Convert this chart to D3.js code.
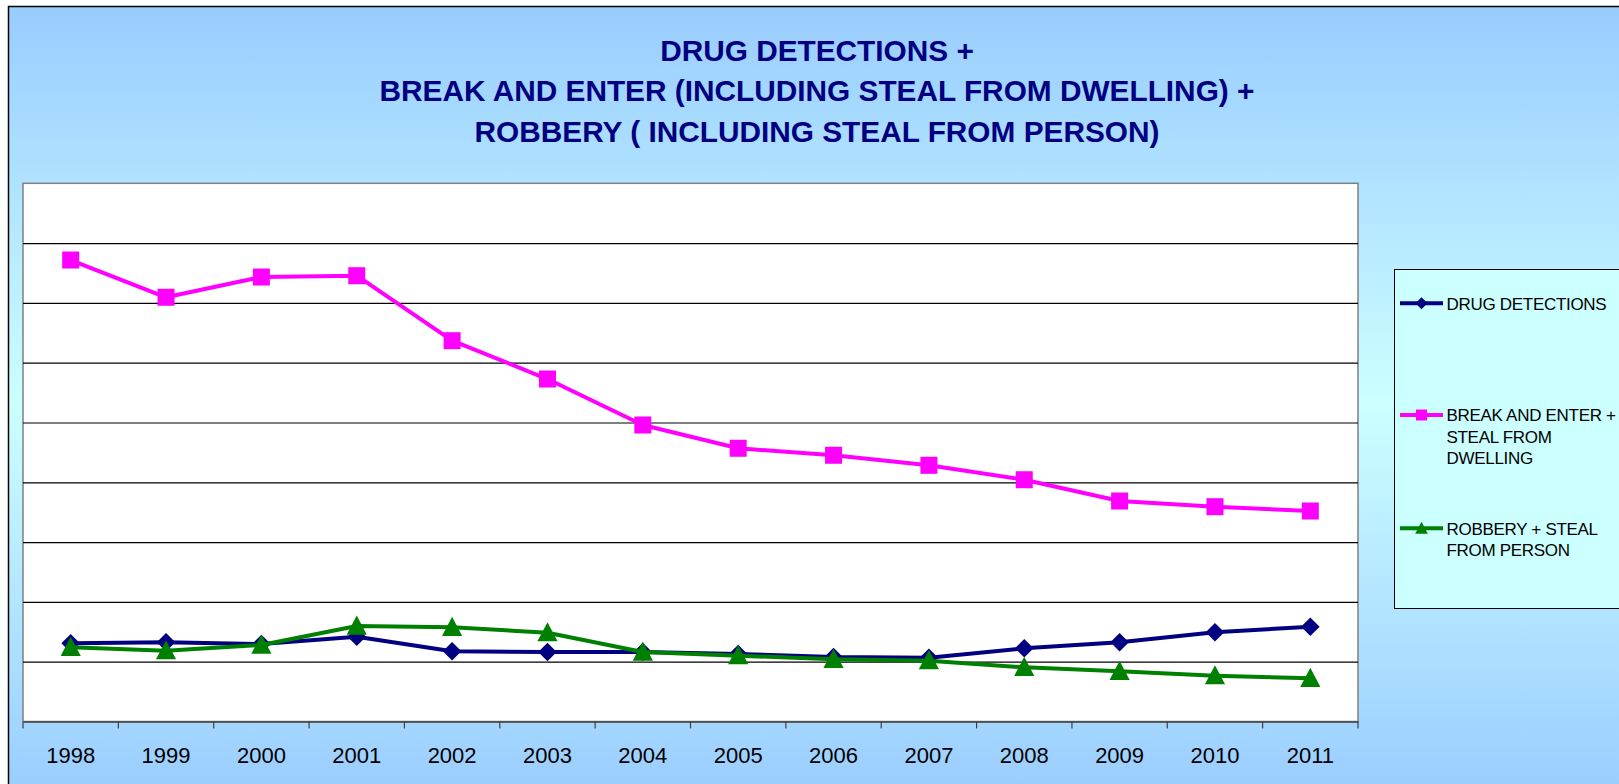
<!DOCTYPE html>
<html>
<head>
<meta charset="utf-8">
<script src="https://cdn.jsdelivr.net/npm/d3@7"></script>
<style>
  html, body { margin: 0; padding: 0; background: #fff; overflow: hidden; }
  svg { display: block; }
  text { font-family: Arial, "Liberation Sans", sans-serif; }
</style>
</head>
<body>
<svg id="chart" width="1619" height="784"></svg>
<script>
// data (y axis has no labels, one gridline = 1000)
const years = ["1998", "1999", "2000", "2001", "2002", "2003", "2004",
  "2005", "2006", "2007", "2008", "2009", "2010", "2011"];
const drugDetections = [1308, 1324, 1296, 1418, 1174, 1162, 1162,
  1129, 1079, 1067, 1224, 1324, 1492, 1585];
const breakAndEnter = [7717, 7094, 7433, 7455, 6368, 5727, 4958,
  4569, 4452, 4284, 4043, 3687, 3592, 3520];
const robbery = [1241, 1184, 1279, 1597, 1575, 1485, 1162,
  1100, 1040, 1017, 906, 839, 766, 722];
const yTicks = [1000, 2000, 3000, 4000, 5000, 6000, 7000, 8000];
const titleLines = [
  "DRUG DETECTIONS +",
  "BREAK AND ENTER (INCLUDING STEAL FROM DWELLING) +",
  "ROBBERY ( INCLUDING STEAL FROM PERSON)"
];

const series = [
  {key: "drug", values: drugDetections, color: "#000080", marker: "diamond",
    label: ["DRUG DETECTIONS"]},
  {key: "bne", values: breakAndEnter, color: "#ff00ff", marker: "square",
    label: ["BREAK AND ENTER +", "STEAL FROM", "DWELLING"]},
  {key: "rob", values: robbery, color: "#008000", marker: "triangle",
    label: ["ROBBERY + STEAL", "FROM PERSON"]}
];

const svg = d3.select("#chart");

// background of the chart object
const defs = svg.append("defs");
const grad = defs.append("linearGradient")
  .attr("id", "bg")
  .attr("gradientUnits", "userSpaceOnUse")
  .attr("x1", 0).attr("y1", 6).attr("x2", 0).attr("y2", 800);
grad.append("stop").attr("offset", "0%").attr("stop-color", "#99ccff");
grad.append("stop").attr("offset", "50%").attr("stop-color", "#ccffff");
grad.append("stop").attr("offset", "100%").attr("stop-color", "#99ccff");

svg.append("rect")
  .attr("x", 8.5).attr("y", 6.5)
  .attr("width", 1640).attr("height", 800)
  .attr("fill", "url(#bg)")
  .attr("stroke", "#000")
  .attr("stroke-width", 1.5);

// title
svg.append("g")
  .selectAll("text")
  .data(titleLines)
  .enter()
  .append("text")
  .attr("x", 817)
  .attr("y", (d, i) => 60.5 + i * 40.5)
  .attr("text-anchor", "middle")
  .attr("font-size", "29.8px")
  .attr("font-weight", "bold")
  .attr("fill", "#000080")
  .text((d) => d);

// plot area
const plot = {left: 23, right: 1358, top: 183.3, bottom: 721.5};

const x = d3.scaleBand()
  .domain(years)
  .range([plot.left, plot.right])
  .padding(0);

const y = d3.scaleLinear()
  .domain([0, 9000])
  .range([plot.bottom, plot.top]);

const cx = (d) => x(d) + x.bandwidth() / 2;

svg.append("rect")
  .attr("x", plot.left).attr("y", plot.top)
  .attr("width", plot.right - plot.left)
  .attr("height", plot.bottom - plot.top)
  .attr("fill", "#fff")
  .attr("stroke", "#808080")
  .attr("stroke-width", 1.5);

// gridlines
svg.append("g")
  .attr("transform", `translate(${plot.left},0)`)
  .call(d3.axisLeft(y).tickValues(yTicks).tickSize(-(plot.right - plot.left)).tickFormat(""))
  .call((g) => g.select(".domain").remove())
  .call((g) => g.selectAll("line").attr("stroke", "#000").attr("stroke-width", 1.2));

// x axis
const xAxis = svg.append("g")
  .attr("transform", `translate(0,${plot.bottom})`)
  .call(d3.axisBottom(x).tickSize(0).tickPadding(26))
  .call((g) => g.select(".domain").attr("stroke", "#404040").attr("stroke-width", 1.5));

xAxis.selectAll("text")
  .attr("font-size", "22px")
  .attr("fill", "#000")
  .attr("font-family", "Arial, 'Liberation Sans', sans-serif");

// tick marks sit on the category boundaries
xAxis.selectAll(".bound")
  .data(years.map((d) => x(d)).concat([plot.right]))
  .enter()
  .append("line")
  .attr("class", "bound")
  .attr("x1", (d) => d).attr("x2", (d) => d)
  .attr("y1", 0).attr("y2", 7)
  .attr("stroke", "#404040")
  .attr("stroke-width", 1.2);

// marker shapes
const markerPath = (type, s) => {
  if (type === "diamond") return `M0,${-s}L${s},0L0,${s}L${-s},0Z`;
  if (type === "square") return `M${-s},${-s}H${s}V${s}H${-s}Z`;
  return `M0,${-s * 1.1}L${s * 1.05},${s * 0.9}L${-s * 1.05},${s * 0.9}Z`;
};
const markerSize = {diamond: 9.3, square: 8.5, triangle: 9.6};

const line = d3.line()
  .x((d, i) => cx(years[i]))
  .y((d) => y(d));

const lines = svg.append("g");
series.forEach((s) => {
  const g = lines.append("g").attr("class", s.key);
  g.append("path")
    .datum(s.values)
    .attr("fill", "none")
    .attr("stroke", s.color)
    .attr("stroke-width", 4)
    .attr("stroke-linejoin", "round")
    .attr("d", line);
  g.selectAll(".pt")
    .data(s.values)
    .enter()
    .append("path")
    .attr("class", "pt")
    .attr("transform", (d, i) => `translate(${cx(years[i])},${y(d)})`)
    .attr("fill", s.color)
    .attr("d", markerPath(s.marker, markerSize[s.marker]));
});

// legend (its right part runs past the window edge, as in the original)
const legend = svg.append("g");
legend.append("rect")
  .attr("x", 1394.5).attr("y", 269.5)
  .attr("width", 260).attr("height", 339)
  .attr("fill", "#ccffff")
  .attr("stroke", "#000")
  .attr("stroke-width", 1);

const legendY = [303.3, 415, 528.3];
const legendSize = {diamond: 6, square: 5.5, triangle: 6};

series.forEach((s, i) => {
  const g = legend.append("g").attr("transform", `translate(0,${legendY[i]})`);
  g.append("line")
    .attr("x1", 1400).attr("x2", 1443)
    .attr("stroke", s.color)
    .attr("stroke-width", 4);
  g.append("path")
    .attr("transform", "translate(1421.5,0)")
    .attr("fill", s.color)
    .attr("d", markerPath(s.marker, legendSize[s.marker]));
  g.selectAll("text")
    .data(s.label)
    .enter()
    .append("text")
    .attr("x", 1446.5)
    .attr("y", (d, j) => 6.3 + j * 21.2)
    .attr("font-size", "17px")
    .attr("letter-spacing", "-0.3px")
    .attr("fill", "#000")
    .text((d) => d);
});
</script>
</body>
</html>
